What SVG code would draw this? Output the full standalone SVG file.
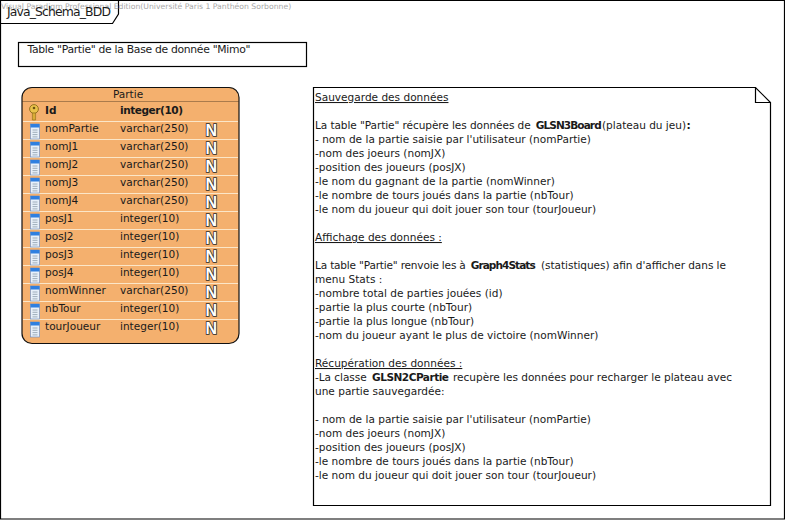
<svg xmlns="http://www.w3.org/2000/svg" width="785" height="520" viewBox="0 0 785 520">
<style>
text{font-family:"DejaVu Sans","Liberation Sans",sans-serif;font-size:10.55px;fill:#1a1a1a;white-space:pre}
.b{font-weight:bold}
.line{fill:none;stroke:#000;stroke-width:1.2}
.sep{stroke:#fbe6c8;stroke-width:1}
.n{font-weight:bold;font-size:16px;fill:#fff;stroke:#2a2a2a;stroke-width:1.6;paint-order:stroke;font-family:"Liberation Sans",sans-serif}
.wm{fill:#a8a8a8;font-size:7.7px}
</style>
<defs>
<g id="col">
<rect x="0" y="0" width="9" height="15" fill="#e8f0fa" stroke="#5f86c4" stroke-width="0.6"/>
<rect x="0" y="0" width="9" height="3.5" fill="#2f7fe0"/>
<path d="M2 6h5M2 8.3h5M2 10.6h5M2 12.9h5" stroke="#8a9aa8" stroke-width="0.8"/>
</g>
<g id="key">
<circle cx="5" cy="5" r="4.4" fill="#e9c24a" stroke="#8a6a1a" stroke-width="0.9"/>
<circle cx="5" cy="4" r="1.3" fill="#6b5414"/>
<path d="M3.4 9v7h3.2v-7z" fill="#d9ac35" stroke="#8a6a1a" stroke-width="0.6"/>
</g>
</defs>
<rect width="785" height="520" fill="#fff"/>
<g id="frame">
<path class="line" d="M0.5 0.5H784.5V519H0.5Z"/>
<path class="line" d="M0.5 0.5H118.5V14L112.5 23.5H0.5"/>
</g>
<text class="wm" x="1" y="9">Visual Paradigm Professional Edition(Université Paris 1 Panthéon Sorbonne)</text>
<text x="7" y="16" style="font-size:12.4px" textLength="104">Java_Schema_BDD</text>
<g id="title">
<rect class="line" x="18.5" y="42.5" width="288" height="24"/>
<text x="27.5" y="53" style="font-size:10.8px" textLength="223">Table "Partie" de la Base de donnée "Mimo"</text>
</g>
<g id="table-partie">
<rect x="22" y="87.5" width="217" height="256" rx="10" fill="#f4b06e" stroke="#111" stroke-width="1.2"/>
<line x1="22" x2="239" y1="101.5" y2="101.5" stroke="#3a2a1a" stroke-width="0.4"/>
<text x="128" y="98" text-anchor="middle">Partie</text>
<g class="seps">
<path class="sep" d="M23 121.5H238M23 139.5H238M23 157.5H238M23 175.5H238M23 193.5H238M23 211.5H238M23 229.5H238M23 247.5H238M23 265.5H238M23 283.5H238M23 301.5H238M23 319.5H238"/>
</g>
<g id="row-id"><use href="#key" x="29" y="104"/><text class="b" x="45" y="114">Id</text><text class="b" x="120" y="114" textLength="63">integer(10)</text></g>
<g id="row-nomPartie"><use href="#col" x="30.5" y="124"/><text x="45" y="132">nomPartie</text><text x="120" y="132">varchar(250)</text><text class="n" x="205.5" y="136">N</text></g>
<g id="row-nomJ1"><use href="#col" x="30.5" y="142"/><text x="45" y="150">nomJ1</text><text x="120" y="150">varchar(250)</text><text class="n" x="205.5" y="154">N</text></g>
<g id="row-nomJ2"><use href="#col" x="30.5" y="160"/><text x="45" y="168">nomJ2</text><text x="120" y="168">varchar(250)</text><text class="n" x="205.5" y="172">N</text></g>
<g id="row-nomJ3"><use href="#col" x="30.5" y="178"/><text x="45" y="186">nomJ3</text><text x="120" y="186">varchar(250)</text><text class="n" x="205.5" y="190">N</text></g>
<g id="row-nomJ4"><use href="#col" x="30.5" y="196"/><text x="45" y="204">nomJ4</text><text x="120" y="204">varchar(250)</text><text class="n" x="205.5" y="208">N</text></g>
<g id="row-posJ1"><use href="#col" x="30.5" y="214"/><text x="45" y="222">posJ1</text><text x="120" y="222">integer(10)</text><text class="n" x="205.5" y="226">N</text></g>
<g id="row-posJ2"><use href="#col" x="30.5" y="232"/><text x="45" y="240">posJ2</text><text x="120" y="240">integer(10)</text><text class="n" x="205.5" y="244">N</text></g>
<g id="row-posJ3"><use href="#col" x="30.5" y="250"/><text x="45" y="258">posJ3</text><text x="120" y="258">integer(10)</text><text class="n" x="205.5" y="262">N</text></g>
<g id="row-posJ4"><use href="#col" x="30.5" y="268"/><text x="45" y="276">posJ4</text><text x="120" y="276">integer(10)</text><text class="n" x="205.5" y="280">N</text></g>
<g id="row-nomWinner"><use href="#col" x="30.5" y="286"/><text x="45" y="294">nomWinner</text><text x="120" y="294">varchar(250)</text><text class="n" x="205.5" y="298">N</text></g>
<g id="row-nbTour"><use href="#col" x="30.5" y="304"/><text x="45" y="312">nbTour</text><text x="120" y="312">integer(10)</text><text class="n" x="205.5" y="316">N</text></g>
<g id="row-tourJoueur"><use href="#col" x="30.5" y="322"/><text x="45" y="330">tourJoueur</text><text x="120" y="330">integer(10)</text><text class="n" x="205.5" y="334">N</text></g>
</g>
<g id="note">
<path class="line" d="M313.5 87.5H755.5L770.5 102.5V505.5H313.5Z"/>
<path class="line" d="M755.5 87.5V102.5H770.5"/>
<text x="315" y="101" text-decoration="underline">Sauvegarde des données</text>
<text y="129"><tspan x="315" textLength="219">La table "Partie" récupère les données de </tspan><tspan class="b" x="535.7" textLength="66">GLSN3Board</tspan><tspan x="602" textLength="84">(plateau du jeu)</tspan><tspan class="b" x="686.5">:</tspan></text>
<text x="315" y="143">- nom de la partie saisie par l'utilisateur (nomPartie)</text>
<text x="315" y="157">-nom des joeurs (nomJX)</text>
<text x="315" y="171">-position des joueurs (posJX)</text>
<text x="315" y="185">-le nom du gagnant de la partie (nomWinner)</text>
<text x="315" y="199">-le nombre de tours joués dans la partie (nbTour)</text>
<text x="315" y="213">-le nom du joueur qui doit jouer son tour (tourJoueur)</text>
<text x="315" y="241" text-decoration="underline">Affichage des données :</text>
<text y="269"><tspan x="315" textLength="154">La table "Partie" renvoie les à </tspan><tspan class="b" x="470.7" textLength="65">Graph4Stats</tspan><tspan x="541" textLength="185">(statistiques) afin d'afficher dans le</tspan></text>
<text x="315" y="283">menu Stats :</text>
<text x="315" y="297">-nombre total de parties jouées (id)</text>
<text x="315" y="311">-partie la plus courte (nbTour)</text>
<text x="315" y="325">-partie la plus longue (nbTour)</text>
<text x="315" y="339">-nom du joueur ayant le plus de victoire (nomWinner)</text>
<text x="315" y="367" text-decoration="underline">Récupération des données :</text>
<text y="381"><tspan x="315" textLength="55">-La classe </tspan><tspan class="b" x="372" textLength="77">GLSN2CPartie</tspan><tspan x="453" textLength="279">recupère les données pour recharger le plateau avec</tspan></text>
<text x="315" y="395">une partie sauvegardée:</text>
<text x="315" y="423">- nom de la partie saisie par l'utilisateur (nomPartie)</text>
<text x="315" y="437">-nom des joeurs (nomJX)</text>
<text x="315" y="451">-position des joueurs (posJX)</text>
<text x="315" y="465">-le nombre de tours joués dans la partie (nbTour)</text>
<text x="315" y="479">-le nom du joueur qui doit jouer son tour (tourJoueur)</text>
</g>
</svg>
